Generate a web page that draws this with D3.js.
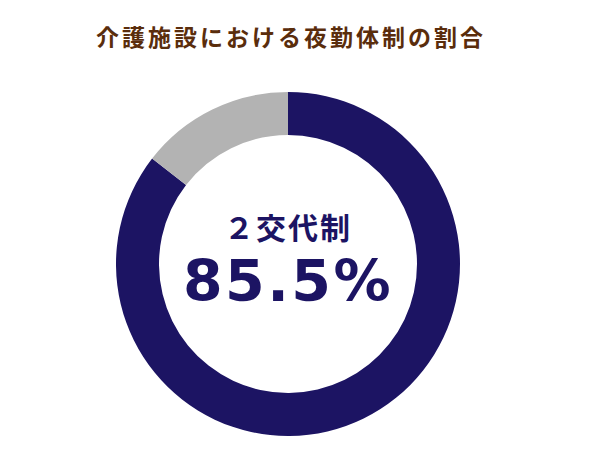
<!DOCTYPE html>
<html>
<head>
<meta charset="utf-8">
<script src="https://cdn.jsdelivr.net/npm/d3@7"></script>
<style>
  body { margin: 0; background: #fff; }
</style>
</head>
<body>
<div id="chart"></div>
<script>
var title = "介護施設における夜勤体制の割合";
var categories = ["２交代制", "その他"];
var values = [85.5, 14.5];
var colors = ["#1c1463", "#b3b3b3"];

var width = 600,
    height = 450;

var cx = 288, cy = 264,
    outerR = 172, innerR = 129;

var svg = d3.select("#chart").append("svg")
    .attr("width", width)
    .attr("height", height);

svg.append("text")
    .attr("x", 291)
    .attr("y", 46)
    .attr("text-anchor", "middle")
    .attr("fill", "#5a2d0c")
    .style("font-family", "'Noto Sans CJK JP', sans-serif")
    .style("font-weight", "bold")
    .style("font-size", "23px")
    .style("letter-spacing", "3px")
    .text(title);

var pie = d3.pie().sort(null).value(d => d);
var arc = d3.arc().innerRadius(innerR).outerRadius(outerR);

var g = svg.append("g")
    .attr("transform", "translate(" + cx + "," + cy + ")");

g.selectAll("path")
    .data(pie(values))
    .enter().append("path")
    .attr("d", arc)
    .attr("fill", (d, i) => colors[i]);

g.append("text")
    .attr("x", 0)
    .attr("y", -25)
    .attr("text-anchor", "middle")
    .attr("fill", colors[0])
    .style("font-family", "'Noto Sans CJK JP', sans-serif")
    .style("font-weight", "bold")
    .style("font-size", "30px")
    .style("letter-spacing", "2px")
    .text(categories[0]);

g.append("text")
    .attr("x", 0)
    .attr("y", 37)
    .attr("text-anchor", "middle")
    .attr("fill", colors[0])
    .style("font-family", "'DejaVu Sans', sans-serif")
    .style("font-weight", "bold")
    .style("font-size", "57px")
    .style("letter-spacing", "2.5px")
    .text(values[0] + "%");
</script>
</body>
</html>
